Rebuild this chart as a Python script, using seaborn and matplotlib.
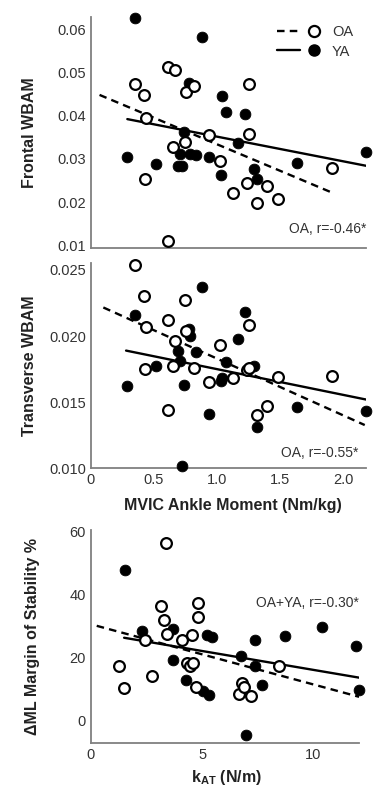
import matplotlib
matplotlib.use("Agg")
import matplotlib.pyplot as plt
import seaborn as sns
from matplotlib.lines import Line2D
from matplotlib.legend_handler import HandlerTuple

# ---------------- data ----------------
# Older adults (OA): MVIC ankle moment (Nm/kg) vs frontal / transverse WBAM
oa_mvic = [0.35, 0.42, 0.43, 0.44, 0.61, 0.61, 0.65, 0.67, 0.745, 0.755, 0.82,
           0.94, 1.02, 1.13, 1.24, 1.25, 1.255, 1.32, 1.40, 1.48, 1.91]
oa_frontal = [0.0473, 0.0448, 0.0253, 0.0394, 0.0512, 0.0110, 0.0327, 0.0506,
              0.0338, 0.0455, 0.0469, 0.0355, 0.0296, 0.0220, 0.0243, 0.0357,
              0.0473, 0.0197, 0.0237, 0.0208, 0.0278]
oa_transverse = [0.0254, 0.0230, 0.0175, 0.0207, 0.0212, 0.0144, 0.0177, 0.0196,
                 0.0227, 0.0204, 0.0176, 0.0165, 0.0193, 0.0168, 0.0174, 0.0208,
                 0.0176, 0.0140, 0.0147, 0.0169, 0.0170]

# Young adults (YA)
ya_mvic = [0.29, 0.35, 0.515, 0.69, 0.71, 0.72, 0.735, 0.78, 0.79, 0.83, 0.88,
           0.935, 1.03, 1.036, 1.072, 1.17, 1.22, 1.29, 1.32, 1.63, 2.18]
ya_frontal = [0.0305, 0.0625, 0.0289, 0.0283, 0.0311, 0.0283, 0.0363, 0.0475,
              0.0311, 0.0310, 0.0583, 0.0305, 0.0262, 0.0446, 0.0408, 0.0337,
              0.0404, 0.0276, 0.0254, 0.0290, 0.0316]
ya_transverse = [0.0162, 0.0216, 0.0177, 0.0189, 0.0181, 0.0102, 0.0163, 0.0205,
                 0.0200, 0.0188, 0.0237, 0.0141, 0.0166, 0.0168, 0.0180, 0.0198,
                 0.0218, 0.0177, 0.0131, 0.0146, 0.0143]

# Achilles tendon stiffness k_AT (N/m) vs change in ML margin of stability (%)
oa_kat = [1.25, 1.48, 2.45, 2.73, 3.17, 3.30, 3.39, 3.41, 4.12, 4.32, 4.45,
          4.60, 4.55, 4.72, 4.80, 4.83, 6.68, 6.78, 6.88, 7.20, 8.46]
oa_mos = [17.3, 10.1, 25.4, 14.0, 36.3, 31.9, 56.5, 27.5, 25.6, 18.2, 17.3,
          18.2, 27.0, 10.4, 32.7, 37.3, 8.3, 11.9, 10.6, 7.5, 17.2]
ya_kat = [1.55, 2.32, 3.71, 3.71, 4.27, 5.05, 5.29, 5.20, 5.45, 6.74, 6.98,
          7.38, 7.36, 7.71, 8.72, 10.38, 11.90, 12.05]
ya_mos = [47.8, 28.2, 28.9, 19.1, 12.6, 9.4, 7.9, 27.1, 26.5, 20.4, -4.6,
          25.6, 17.2, 11.2, 26.8, 29.7, 23.7, 9.6]

# Regression line end points (x, y)
fit_frontal_oa = ([0.07, 1.91], [0.0448, 0.0222])
fit_frontal_ya = ([0.29, 2.18], [0.0392, 0.0284])
fit_transverse_oa = ([0.10, 2.17], [0.02216, 0.01327])
fit_transverse_ya = ([0.28, 2.18], [0.0189, 0.0152])
fit_mos_oa = ([0.27, 12.05], [30.0, 7.4])
fit_mos_ya = ([1.50, 12.05], [26.2, 13.5])

# Axis ticks and labels
mvic_ticks = [0, 0.5, 1.0, 1.5, 2.0]
mvic_ticklabels = ["0", "0.5", "1.0", "1.5", "2.0"]
frontal_ticks = [0.01, 0.02, 0.03, 0.04, 0.05, 0.06]
frontal_ticklabels = ["0.01", "0.02", "0.03", "0.04", "0.05", "0.06"]
transverse_ticks = [0.010, 0.015, 0.020, 0.025]
transverse_ticklabels = ["0.010", "0.015", "0.020", "0.025"]
kat_ticks = [0, 5, 10]
mos_ticks = [0, 20, 40, 60]

# ---------------- style ----------------
sns.set_theme(style="white")
plt.rcParams["font.family"] = ["Liberation Sans", "DejaVu Sans"]
plt.rcParams["mathtext.fontset"] = "custom"
plt.rcParams["mathtext.rm"] = "Liberation Sans"
plt.rcParams["mathtext.bf"] = "Liberation Sans:bold"

W, H = 379, 789
fig = plt.figure(figsize=(W / 100, H / 100), dpi=100)


def frac(left, top, right, bottom):
    return [left / W, 1 - bottom / H, (right - left) / W, (bottom - top) / H]


ax1 = fig.add_axes(frac(90.7, 16.7, 366, 248.3))
ax2 = fig.add_axes(frac(90.7, 263.3, 366, 468.3))
ax3 = fig.add_axes(frac(90.7, 530, 359.3, 743.3))

SPINE = "#808080"
TICKTXT = "#333333"
DASH = (0, (3.2, 2.2))


def draw(ax, oa_x, oa_y, ya_x, ya_y, fit_oa, fit_ya):
    sns.lineplot(x=fit_oa[0], y=fit_oa[1], ax=ax, color="black", lw=1.7,
                 linestyle=DASH, zorder=2)
    sns.lineplot(x=fit_ya[0], y=fit_ya[1], ax=ax, color="black", lw=1.7,
                 linestyle="-", zorder=2)
    sns.scatterplot(x=ya_x, y=ya_y, ax=ax, s=60, color="black",
                    edgecolor="black", linewidth=0.6, zorder=3, clip_on=False)
    sns.scatterplot(x=oa_x, y=oa_y, ax=ax, s=60, facecolor="white",
                    edgecolor="black", linewidth=1.6, zorder=4, clip_on=False)
    for side in ("top", "right"):
        ax.spines[side].set_visible(False)
    for side in ("left", "bottom"):
        ax.spines[side].set_color(SPINE)
        ax.spines[side].set_linewidth(1.3)
    ax.tick_params(direction="in", length=3, width=1, color=SPINE,
                   labelcolor=TICKTXT, labelsize=10.5, pad=3.5)
    ax.set_xlabel("")
    ax.set_ylabel("")


draw(ax1, oa_mvic, oa_frontal, ya_mvic, ya_frontal, fit_frontal_oa, fit_frontal_ya)
draw(ax2, oa_mvic, oa_transverse, ya_mvic, ya_transverse, fit_transverse_oa, fit_transverse_ya)
draw(ax3, oa_kat, oa_mos, ya_kat, ya_mos, fit_mos_oa, fit_mos_ya)

# Panel 1: frontal WBAM
ax1.set_xlim(0, 2.18)
ax1.set_ylim(0.0093, 0.0629)
ax1.set_xticks(mvic_ticks)
ax1.set_xticklabels([])
ax1.set_yticks(frontal_ticks)
ax1.set_yticklabels(frontal_ticklabels)
ax1.set_ylabel("Frontal WBAM", fontsize=11.5, fontweight="bold", color="#222222")
ax1.yaxis.set_label_coords(-0.195, 0.5)
ax1.text(1.0, 0.083, "OA, r=-0.46*", transform=ax1.transAxes, ha="right",
         va="center", fontsize=10, color="#333333")

# Legend
oa_handle = (Line2D([], [], color="black", lw=1.7, linestyle=DASH),
             Line2D([], [], marker="o", ls="", mfc="white", mec="black", ms=8, mew=1.6))
ya_handle = (Line2D([], [], color="black", lw=1.7),
             Line2D([], [], marker="o", ls="", mfc="black", mec="black", ms=8))
ax1.legend([oa_handle, ya_handle], ["OA", "YA"], loc="upper right",
           handler_map={tuple: HandlerTuple(ndivide=None, pad=0.2)},
           frameon=False, fontsize=10.5, handlelength=3.4, handletextpad=0.4,
           labelspacing=0.35, borderaxespad=0.2, bbox_to_anchor=(0.985, 1.0),
           labelcolor=TICKTXT)

# Panel 2: transverse WBAM
ax2.set_xlim(0, 2.18)
ax2.set_ylim(0.0100, 0.0255)
ax2.set_xticks(mvic_ticks)
ax2.set_xticklabels(mvic_ticklabels)
ax2.set_yticks(transverse_ticks)
ax2.set_yticklabels(transverse_ticklabels)
ax2.set_ylabel("Transverse WBAM", fontsize=11.5, fontweight="bold", color="#222222")
ax2.yaxis.set_label_coords(-0.195, 0.5)
ax2.set_xlabel("MVIC Ankle Moment (Nm/kg)", fontsize=11.5, fontweight="bold",
               color="#222222")
ax2.xaxis.set_label_coords(0.517, -0.145)
ax2.text(0.971, 0.075, "OA, r=-0.55*", transform=ax2.transAxes, ha="right",
         va="center", fontsize=10, color="#333333")

# Panel 3: margin of stability vs k_AT
ax3.set_xlim(0, 12.06)
ax3.set_ylim(-7.4, 60.5)
ax3.set_xticks(kat_ticks)
ax3.set_yticks(mos_ticks)
ax3.set_ylabel("\u0394ML Margin of Stability %", fontsize=11.5, fontweight="bold",
               color="#222222")
ax3.yaxis.set_label_coords(-0.19, 0.5)
ax3.set_xlabel(r"k$_{\mathbf{AT}}$ (N/m)", fontsize=11.5, fontweight="bold",
               color="#222222")
ax3.xaxis.set_label_coords(0.506, -0.118)
ax3.text(1.0, 0.656, "OA+YA, r=-0.30*", transform=ax3.transAxes, ha="right",
         va="center", fontsize=10, color="#333333")

fig.savefig("out.png", dpi=100)
